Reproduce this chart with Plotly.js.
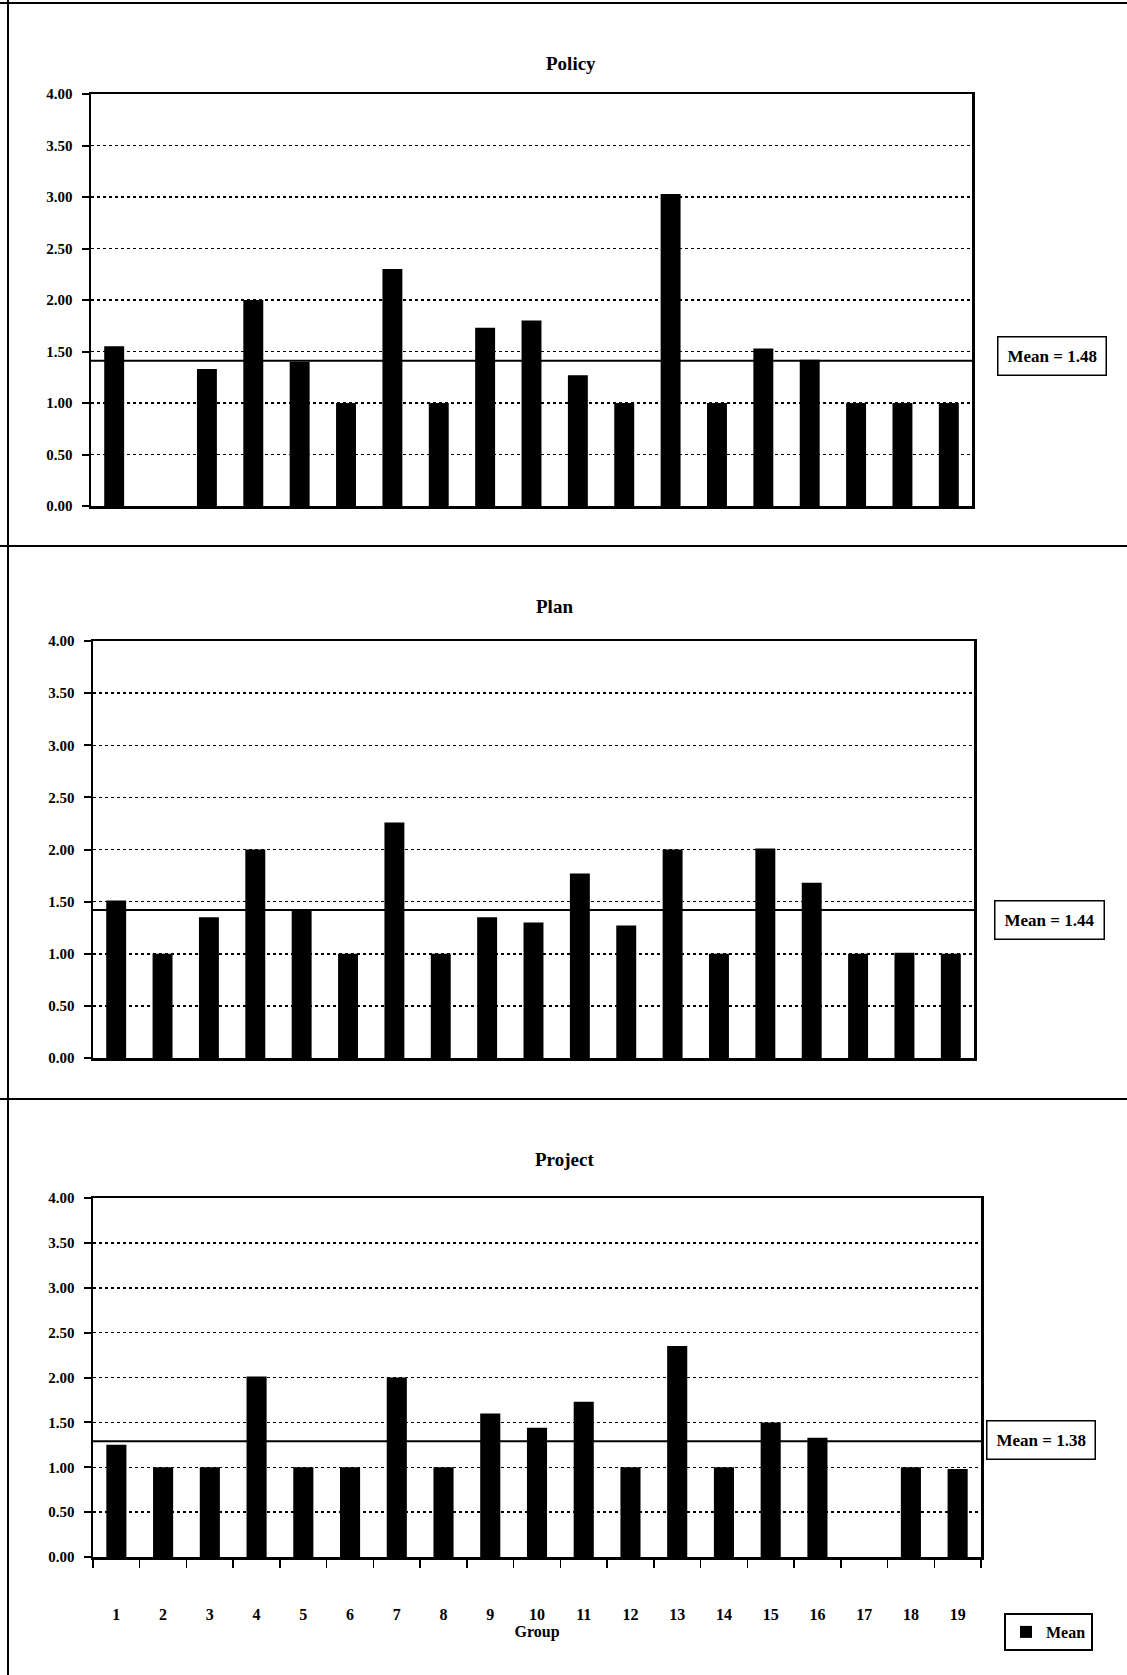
<!DOCTYPE html>
<html>
<head>
<meta charset="utf-8">
<script src="https://cdn.plot.ly/plotly-3.0.1.min.js"></script>
<style>html,body{margin:0;padding:0;background:#fff;}#chart{width:1127px;height:1675px;}</style>
</head>
<body>
<div id="chart"></div>
<script>
// ---- data ----
var groups = ['1','2','3','4','5','6','7','8','9','10','11','12','13','14','15','16','17','18','19'];
var policyValues  = [1.55, 0, 1.33, 2.00, 1.40, 1.00, 2.30, 1.00, 1.73, 1.80, 1.27, 1.00, 3.03, 1.00, 1.53, 1.42, 1.00, 1.00, 1.00];
var planValues    = [1.51, 1.00, 1.35, 2.00, 1.43, 1.00, 2.26, 1.00, 1.35, 1.30, 1.77, 1.27, 2.00, 1.00, 2.01, 1.68, 1.00, 1.01, 1.00];
var projectValues = [1.25, 1.00, 1.00, 2.01, 1.00, 1.00, 2.00, 1.00, 1.60, 1.44, 1.73, 1.00, 2.35, 1.00, 1.50, 1.33, 0, 1.00, 0.98];
var panelTitles = ['Policy', 'Plan', 'Project'];
var meanLineValues = [1.41, 1.42, 1.29];
var meanLabels = ['Mean = 1.48', 'Mean = 1.44', 'Mean = 1.38'];
var yTickValues = [0, 0.5, 1, 1.5, 2, 2.5, 3, 3.5, 4];
var legendName = 'Mean';
var xTitle = 'Group';

// ---- layout helpers (pixel -> paper) ----
var W = 1127, H = 1675;
function px(x){ return x / W; }
function py(y){ return 1 - y / H; }
var FONT = '"Liberation Serif", "Times New Roman", serif';

var boxes = [
  {x0: 91, x1: 972, y0: 94,  y1: 506},
  {x0: 93, x1: 974, y0: 641, y1: 1058},
  {x0: 93, x1: 981, y0: 1198, y1: 1557}
];
var titlePos = [[571, 64], [554, 606], [564, 1159]];
var meanBoxPos = [[1052, 356], [1049, 920], [1041, 1440]];

var series = [policyValues, planValues, projectValues];
var traces = [];
series.forEach(function(vals, i){
  var s = i === 0 ? '' : String(i + 1);
  traces.push({
    type: 'bar', x: groups, y: vals, name: legendName,
    xaxis: 'x' + s, yaxis: 'y' + s,
    marker: {color: '#000', line: {color: '#000', width: 0}},
    showlegend: i === 2, hoverinfo: 'x+y'
  });
});

function yAxis(i){
  var b = boxes[i];
  return {
    domain: [py(b.y1), py(b.y0)], anchor: i === 0 ? 'x' : 'x' + (i + 1),
    range: [0, 4], tickvals: yTickValues, tickformat: '.2f',
    showline: true, linecolor: '#000', linewidth: 2.5, mirror: true,
    ticks: 'outside', ticklen: 7, tickwidth: 2, tickcolor: '#000',
    ticklabelstandoff: 6,
    showgrid: true, gridcolor: '#000', gridwidth: 1.5, griddash: 'dot',
    zeroline: false, tickfont: {family: FONT, size: 15, color: '#000', weight: 'bold'},
    fixedrange: true
  };
}
function xAxis(i){
  var b = boxes[i];
  var ax = {
    domain: [px(b.x0), px(b.x1)], anchor: i === 0 ? 'y' : 'y' + (i + 1),
    type: 'category', showline: true, linecolor: '#000', linewidth: 2.5, mirror: true,
    showgrid: false, zeroline: false, fixedrange: true,
    showticklabels: false, ticks: ''
  };
  if (i === 2) {
    ax.showticklabels = true;
    ax.ticks = 'outside'; ax.tickson = 'boundaries'; ax.ticklen = 8; ax.tickwidth = 1.5; ax.tickcolor = '#000';
    ax.ticklabelstandoff = 41;
    ax.tickfont = {family: FONT, size: 16, color: '#000', weight: 'bold'};
    ax.title = {text: xTitle, standoff: 0, font: {family: FONT, size: 16, color: '#000', weight: 'bold'}};
  }
  return ax;
}

var annotations = [];
var shapes = [];
for (var i = 0; i < 3; i++) {
  annotations.push({
    xref: 'paper', yref: 'paper', x: px(titlePos[i][0]), y: py(titlePos[i][1]),
    xanchor: 'center', yanchor: 'middle', showarrow: false, text: panelTitles[i],
    font: {family: FONT, size: 19, color: '#000', weight: 'bold'}
  });
  annotations.push({
    xref: 'paper', yref: 'paper', x: px(meanBoxPos[i][0]), y: py(meanBoxPos[i][1]),
    xanchor: 'center', yanchor: 'middle', showarrow: false, text: meanLabels[i],
    font: {family: FONT, size: 17, color: '#000', weight: 'bold'},
    bordercolor: '#000', borderwidth: 1.5, borderpad: 9, bgcolor: '#fff'
  });
  var s = i === 0 ? '' : String(i + 1);
  shapes.push({
    type: 'line', xref: 'x' + s + ' domain', yref: 'y' + s,
    x0: 0, x1: 1, y0: meanLineValues[i], y1: meanLineValues[i],
    line: {color: '#000', width: 2}
  });
}
// page frame lines
shapes.push({type: 'line', xref: 'paper', yref: 'paper', x0: 0, x1: 1, y0: py(3), y1: py(3), line: {color: '#000', width: 2}});
shapes.push({type: 'line', xref: 'paper', yref: 'paper', x0: 0, x1: 1, y0: py(546), y1: py(546), line: {color: '#000', width: 2}});
shapes.push({type: 'line', xref: 'paper', yref: 'paper', x0: 0, x1: 1, y0: py(1099), y1: py(1099), line: {color: '#000', width: 2}});
shapes.push({type: 'line', xref: 'paper', yref: 'paper', x0: px(8), x1: px(8), y0: 0, y1: 1, line: {color: '#000', width: 2}});

var layout = {
  width: W, height: H, margin: {l: 0, r: 0, t: 0, b: 0},
  paper_bgcolor: '#fff', plot_bgcolor: '#fff',
  bargap: 0.57, showlegend: true,
  legend: {
    x: px(1004), y: py(1613), xanchor: 'left', yanchor: 'top',
    bordercolor: '#000', borderwidth: 2, bgcolor: '#fff',
    itemwidth: 30, valign: 'middle',
    font: {family: FONT, size: 16, color: '#000', weight: 'bold'}
  },
  xaxis: xAxis(0), yaxis: yAxis(0),
  xaxis2: xAxis(1), yaxis2: yAxis(1),
  xaxis3: xAxis(2), yaxis3: yAxis(2),
  annotations: annotations, shapes: shapes
};
Plotly.newPlot('chart', traces, layout, {displayModeBar: false, staticPlot: true});
</script>
</body>
</html>
